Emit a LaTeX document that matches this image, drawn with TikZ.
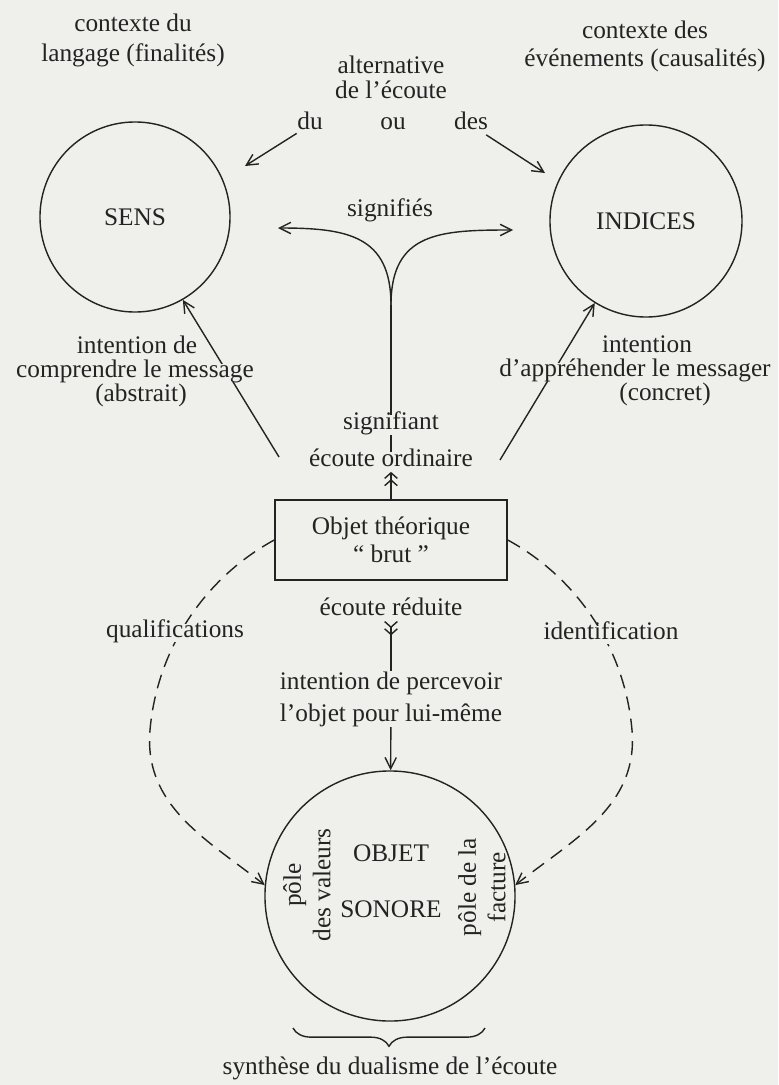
\documentclass[tikz,border=0pt]{standalone}
\usepackage{fontspec}
\setmainfont{Liberation Serif}
\usetikzlibrary{arrows.meta,decorations.pathreplacing}
\definecolor{paper}{RGB}{239,239,235}
\definecolor{ink}{RGB}{35,35,35}
\tikzset{
  lbl/.style={font=\fontsize{18}{20}\selectfont, align=center, inner sep=0pt},
  word/.style={font=\fontsize{18}{20}\selectfont, inner sep=0pt, text height=10pt, text depth=3pt},
  mask/.style={word, fill=paper},
  pole/.style={lbl, draw, circle, inner sep=0pt},
  dashline/.style={dash pattern=on 10pt off 6pt},
  dblhead/.style={-{Straight Barb[length=4pt,width=9pt] Straight Barb[length=4pt,width=9pt]}},
  dbltail/.style={{Straight Barb[length=4pt,width=9pt,reversed] Straight Barb[length=4pt,width=9pt,reversed]}-}
}
\begin{document}
\begin{tikzpicture}[x=0.025cm, y=0.025cm, line width=1pt, color=ink, >={Straight Barb[length=8pt,width=8pt]}]
  \fill[paper] (0,0) rectangle (778,-1085);
  \useasboundingbox (0,0) rectangle (778,-1085);
  \node[lbl] (ctxlang) at (133,-40) {contexte du\\[1.3pt]langage (finalités)};
  \node[lbl] (ctxevt) at (645,-46) {contexte des\\événements (causalités)};
  \node[lbl] (alt) at (391,-77) {alternative\\[-2pt]de l'écoute};
  \node[word] (du) at (310,-125) {du};
  \node[word] (ou) at (393,-125) {ou};
  \node[word] (des) at (471,-125) {des};
  \node[pole, minimum size=4.75cm] (sens) at (135,-217) {SENS};
  \node[pole, minimum size=4.8cm] (indices) at (646,-221) {INDICES};
  \node[word] (signifies) at (390,-212) {signifiés};
  \coordinate (fork) at (391,-305);
  \coordinate (sgl) at (278,-228);
  \coordinate (sgr) at (513,-230);
  \node[word] (sig) at (391,-425) {signifiant};
  \node[word] (ord) at (391,-462) {écoute ordinaire};
  \node[lbl, draw, minimum width=5.8cm, minimum height=2cm] (box) at (391,-540) {Objet théorique\\“~brut~”};
  \node[word] (red) at (391,-611) {écoute réduite};
  \node[lbl] (perc) at (391,-699) {intention de percevoir\\[2.7pt]l'objet pour lui-même};
  \node[pole, minimum size=6.25cm] (objet) at (390,-896) {};
  \node[lbl] (objtxt) at (391,-881) {OBJET\\[20pt]SONORE};
  \node[lbl, rotate=90] (valeurs) at (307,-885) {pôle\\[1pt]des valeurs};
  \node[lbl, rotate=90] (facture) at (482,-887) {pôle de la\\[1pt]facture};
  \coordinate (dutip) at (245,-166);
  \coordinate (destip) at (545,-173);
  \draw[->] (du) -- (dutip);
  \draw[->] (des) -- (destip);
  \draw[->, looseness=1.3] (fork) to[out=90,in=0] (sgl);
  \draw[->, looseness=1.3] (fork) to[out=90,in=180] (sgr);
  \draw (sig) -- (fork);
  \draw (ord) -- (sig);
  \draw[dblhead] (box) -- (ord);
  \draw[dbltail] (red) -- (perc);
  \draw[->] (perc) -- (objet);
  \coordinate (cl) at (279,-457);
  \coordinate (cr) at (500,-460);
  \draw[->] (cl) -- (sens.300);
  \draw[->] (cr) -- (indices.238);
  \draw[dashline,->] (box.west) arc[start angle=118.6, end angle=175, radius=6cm] to[out=265,in=142] (objet.175);
  \draw[dashline,->] (box.east) arc[start angle=61.4, end angle=5, radius=6cm] to[out=275,in=38] (objet.5);
  \node[word] (inta) at (137,-349) {intention de};
  \node[mask] (intb) at (135,-373) {comprendre le message};
  \node[word] (intc) at (141,-397) {(abstrait)};
  \node[word] (intd) at (647,-348) {intention};
  \node[mask] (inte) at (635,-372) {d'appréhender le messager};
  \node[word] (intf) at (665,-396) {(concret)};
  \node[mask] (qual) at (175,-633) {qualifications};
  \node[mask] (ident) at (611,-635) {identification};
  \coordinate (bl) at (293,-1028);
  \coordinate (br) at (485,-1028);
  \draw[decorate, decoration={brace, amplitude=13pt}] (br) -- (bl);
  \node[word] (synth) at (390,-1070) {synthèse du dualisme de l'écoute};
\end{tikzpicture}
\end{document}
